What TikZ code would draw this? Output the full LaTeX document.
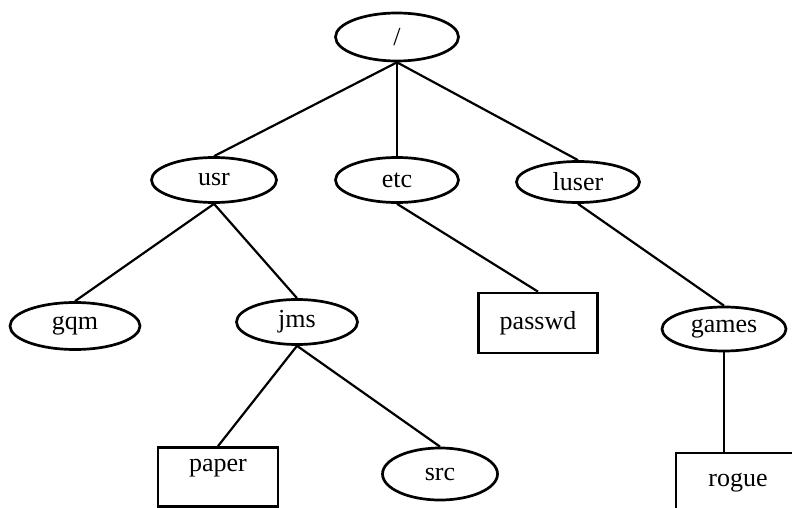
\documentclass[tikz,border=0pt]{standalone}
\usepackage{fontspec}
\setmainfont{Liberation Serif}
\usetikzlibrary{shapes,positioning}

\begin{document}
\begin{tikzpicture}[x=1pt,y=-1pt]
\tikzstyle{dvertex}=[ellipse,draw=black,line width=2.7pt,inner sep=0pt,font=\fontsize{26}{30}\selectfont]
\tikzstyle{fvertex}=[rectangle,draw=black,line width=2.7pt,inner sep=0pt,minimum width=120pt,minimum height=60pt,font=\fontsize{26}{30}\selectfont]
\tikzstyle{edge}=[line width=2.2pt]

\useasboundingbox (0,0) rectangle (792,508);

%ROOT
\node[dvertex,minimum width=123pt,minimum height=48pt] (root) at (397,37) {/};

%%%%%%%%%%%%%%%%%%%%%%%%%%%%%%%%%%%%%%%%%%%%%%%%%%%%%%%%%%%%%%%%%%%%%%%%
%level 1
\node[dvertex,minimum width=125pt,minimum height=45pt] (usr) at (214,180) {usr};
\node[dvertex,minimum width=123pt,minimum height=45pt] (etc) at (397,180) {etc};
\node[dvertex,minimum width=123pt,minimum height=41pt] (luser) at (578,182) {luser};

%%%%%%%%%%%%%%%%%%%%%%%%%%%%%%%%%%%%%%%%%%%%%%%%%%%%%%%%%%%%%%%%%%%%%%%%
%level 2
\node[dvertex,minimum width=130pt,minimum height=47pt] (gqm) at (75,326) {gqm};
\node[dvertex,minimum width=121pt,minimum height=45pt] (jms) at (297,322) {jms};
\node[fvertex,minimum width=119pt] (passwd) at (538,323) {passwd};
\node[dvertex,minimum width=124pt,minimum height=44pt] (games) at (724,329) {games};

%%%%%%%%%%%%%%%%%%%%%%%%%%%%%%%%%%%%%%%%%%%%%%%%%%%%%%%%%%%%%%%%%%%%%%%%
%level 3
\node[fvertex,minimum height=59pt,text depth=24pt] (paper) at (218,477) {paper};
\node[dvertex,minimum width=115pt,minimum height=52pt] (src) at (440,474) {src};
\node[fvertex,minimum width=124pt] (rogue) at (738,483) {rogue};

%%%%%%%%%%%%%%%%%%%%%%%%%%%%%%%%%%%%%%%%%%%%%%%%%%%%%%%%%%%%%%
%LINES

% root->level 1
\draw[edge] (root.south) -- (usr.north);
\draw[edge] (root.south) -- (etc.north);
\draw[edge] (root.south) -- (luser.north);

% level 1->level 2
\draw[edge] (usr.south) -- (gqm.north);
\draw[edge] (usr.south) -- (jms.north);
\draw[edge] (etc.south) -- (passwd.north);
\draw[edge] (luser.south) -- (games.north);

% level 2->level 3
\draw[edge] (jms.south) -- (paper.north);
\draw[edge] (jms.south) -- (src.north);
\draw[edge] (games.south) -- (games.south |- rogue.north);

\end{tikzpicture}
\end{document}
